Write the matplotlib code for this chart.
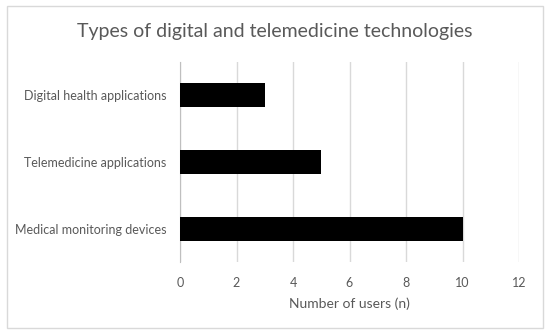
import matplotlib.pyplot as plt
from matplotlib.patches import Rectangle

# chart data
categories = ["Medical monitoring devices", "Telemedicine applications", "Digital health applications"]
users = [10, 5, 3]
x_ticks = [0, 2, 4, 6, 8, 10, 12]

text_color = "#595959"
plt.rcParams["font.family"] = ["Lato", "DejaVu Sans"]

fig = plt.figure(figsize=(5.5, 3.36), dpi=100)
ax = fig.add_axes([180 / 550, 1 - 262 / 336, 339 / 550, 200 / 336])

# outer chart border
fig.patches.append(Rectangle((7 / 550, 1 - 328 / 336), 536 / 550, 322 / 336,
                             transform=fig.transFigure, fill=False,
                             edgecolor="#d9d9d9", linewidth=1))

ax.barh(range(len(categories)), users, height=0.36, color="black", zorder=3)
ax.set_ylim(-0.5, len(categories) - 0.5)
ax.set_xlim(0, 12)
ax.set_xticks(x_ticks)
ax.set_yticks(range(len(categories)))
ax.set_yticklabels(categories)

ax.grid(axis="x", color="#d9d9d9", linewidth=1, zorder=0)
for side in ["top", "right", "bottom"]:
    ax.spines[side].set_visible(False)
ax.spines["left"].set_color("#bfbfbf")
ax.tick_params(axis="both", length=0, labelsize=9, colors=text_color)
ax.tick_params(axis="y", pad=10)
ax.tick_params(axis="x", pad=11)

ax.set_xlabel("Number of users (n)", fontsize=10, color=text_color, labelpad=6)
fig.text(0.5, 1 - 32 / 336, "Types of digital and telemedicine technologies",
         ha="center", va="center", fontsize=14, color=text_color)

fig.savefig("out.png", dpi=100)
